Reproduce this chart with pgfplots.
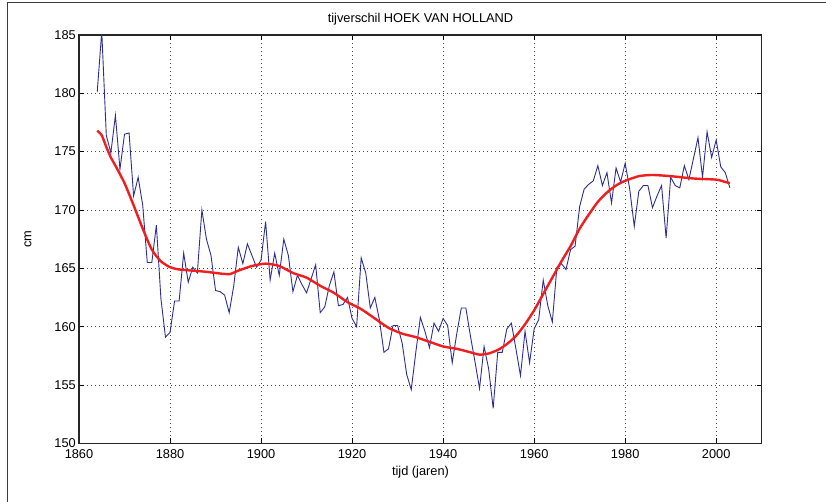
\documentclass[border=0pt]{standalone}
\usepackage{pgfplots}
\pgfplotsset{compat=1.18}
\usepackage{fontspec}
\setmainfont{Liberation Sans}
\definecolor{mblue}{RGB}{45,45,150}
\definecolor{mred}{RGB}{240,30,30}
\definecolor{frame}{RGB}{60,60,60}
\begin{document}
\fontsize{12.8bp}{15bp}\selectfont
\begin{tikzpicture}
\path[use as bounding box] (0,0) rectangle (826bp,502bp);
\draw[frame,line width=1.2bp] (7.5bp,0) -- (7.5bp,499.8bp) -- (826bp,499.8bp);
\begin{axis}[
  at={(79bp,58.7bp)}, anchor=south west,
  scale only axis, width=682.7bp, height=408.3bp,
  xmin=1860, xmax=2010, ymin=150, ymax=185,
  xtick={1860,1880,...,2000}, ytick={150,155,...,185},
  tick align=inside, major tick length=5bp,
  tick style={black, line width=0.8bp},
  axis line style={black!85, line width=1.1bp},
  grid=major,
  major grid style={black!70, line width=0.6bp, dash pattern=on 0.6bp off 3.4bp},
  /pgf/number format/assume math mode=true,
  /pgf/number format/1000 sep={},
  tick label style={font=\fontsize{12.8bp}{15bp}\selectfont, inner sep=0pt},
  xticklabel style={anchor=north, yshift=-6.5bp},
  yticklabel style={anchor=east, xshift=-3bp},
  clip=true,
]
\addplot[mblue, line width=0.9bp] coordinates {
(1864,180.1)(1865,185.3)(1866,176.4)(1867,174.9)(1868,178.1)(1869,173.5)(1870,176.5)(1871,176.6)(1872,171.2)(1873,172.8)
(1874,170.4)(1875,165.5)(1876,165.5)(1877,168.7)(1878,162.4)(1879,159.1)(1880,159.5)(1881,162.2)(1882,162.2)(1883,166.3)
(1884,163.8)(1885,165.1)(1886,164.6)(1887,170.0)(1888,167.5)(1889,166.1)(1890,163.1)(1891,163.0)(1892,162.7)(1893,161.2)
(1894,163.5)(1895,166.8)(1896,165.4)(1897,167.1)(1898,166.1)(1899,165.1)(1900,165.7)(1901,169.0)(1902,164.0)(1903,166.3)
(1904,164.4)(1905,167.5)(1906,166.1)(1907,163.0)(1908,164.4)(1909,163.6)(1910,162.9)(1911,164.1)(1912,165.3)(1913,161.2)
(1914,161.7)(1915,163.5)(1916,164.7)(1917,161.8)(1918,161.9)(1919,162.5)(1920,160.7)(1921,160.0)(1922,165.9)(1923,164.6)
(1924,161.6)(1925,162.5)(1926,160.6)(1927,157.8)(1928,158.1)(1929,160.1)(1930,160.1)(1931,158.6)(1932,155.9)(1933,154.6)
(1934,157.8)(1935,160.8)(1936,159.6)(1937,158.2)(1938,160.3)(1939,159.6)(1940,160.7)(1941,160.1)(1942,156.9)(1943,159.4)
(1944,161.6)(1945,161.6)(1946,159.2)(1947,157.0)(1948,154.7)(1949,158.3)(1950,156.4)(1951,153.0)(1952,157.8)(1953,157.8)
(1954,159.8)(1955,160.3)(1956,158.1)(1957,155.8)(1958,159.6)(1959,156.9)(1960,159.8)(1961,160.6)(1962,164.0)(1963,161.8)
(1964,160.4)(1965,165.1)(1966,165.4)(1967,164.9)(1968,166.6)(1969,166.9)(1970,170.3)(1971,171.8)(1972,172.2)(1973,172.5)
(1974,173.8)(1975,172.1)(1976,173.2)(1977,170.6)(1978,173.6)(1979,172.4)(1980,174.0)(1981,171.8)(1982,168.6)(1983,171.6)
(1984,172.1)(1985,172.1)(1986,170.2)(1987,171.2)(1988,172.1)(1989,167.6)(1990,172.8)(1991,172.1)(1992,171.9)(1993,173.8)
(1994,172.6)(1995,174.4)(1996,176.2)(1997,172.8)(1998,176.7)(1999,174.5)(2000,176.0)(2001,173.7)(2002,173.2)(2003,171.9)
};
\addplot[mred, line width=2.4bp, smooth, tension=0.4] coordinates {
(1864,176.8)(1865,176.4)(1866,175.4)(1867,174.5)(1868,173.8)(1870,172.3)(1872,170.4)(1874,168.4)(1876,166.6)(1878,165.6)
(1880,165.1)(1882,164.9)(1885,164.8)(1888,164.7)(1890,164.6)(1893,164.5)(1895,164.8)(1898,165.2)(1901,165.4)(1904,165.2)
(1907,164.6)(1910,164.2)(1913,163.5)(1916,162.9)(1919,162.1)(1922,161.5)(1925,160.7)(1928,159.9)(1931,159.4)(1934,159.1)
(1937,158.7)(1940,158.3)(1943,158.1)(1946,157.8)(1948,157.6)(1950,157.7)(1952,158.0)(1954,158.5)(1956,159.2)(1958,160.2)
(1960,161.4)(1962,162.8)(1964,164.2)(1966,165.6)(1968,166.9)(1970,168.4)(1972,169.6)(1974,170.7)(1976,171.5)(1978,172.1)
(1980,172.5)(1983,172.9)(1986,173.0)(1990,172.9)(1995,172.7)(2000,172.6)(2002,172.4)(2003,172.3)
};
\end{axis}
\node[inner sep=0pt] at (420.5bp,483bp) {tijverschil HOEK VAN HOLLAND};
\node[inner sep=0pt] at (420.5bp,30bp) {tijd (jaren)};
\node[inner sep=0pt, rotate=90] at (28bp,263bp) {cm};
\end{tikzpicture}
\end{document}
